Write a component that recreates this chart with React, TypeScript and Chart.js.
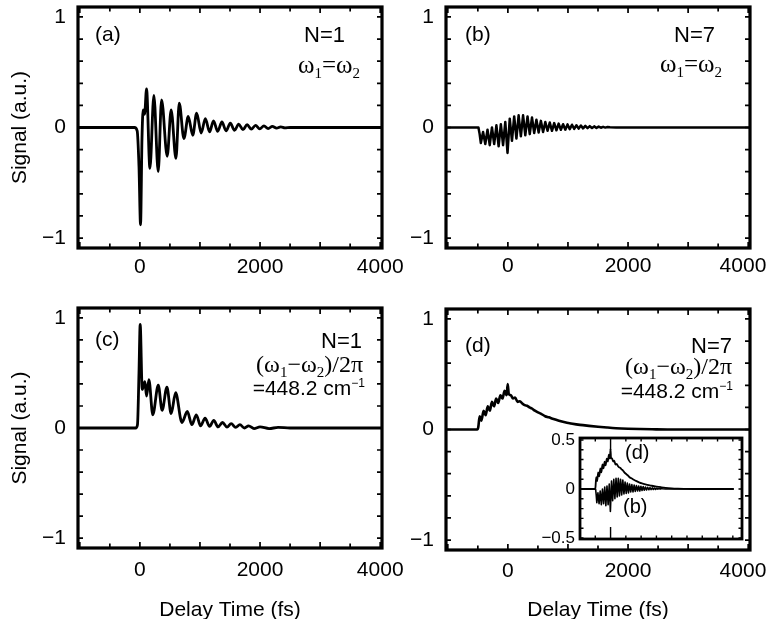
import React, { useEffect, useRef } from "react";
import { Chart, registerables } from "chart.js";

Chart.register(...registerables);

// ---------------- data ----------------
// (a) N=1, w1=w2
const aTime = [-1030, -90, -45, -15, 11, 35, 55, 78, 111, 167, 233, 305, 361, 455, 520, 600, 655, 733, 805, 880, 945, 1020, 1090, 1160, 1225, 1295, 1365, 1435, 1505, 1575, 1645, 1715, 1785, 1855, 1925, 1995, 2065, 2135, 2205, 2275, 2345, 2415, 2500, 4030];
const aSignal = [0, 0, -0.03, -0.35, -0.88, -0.1, 0.16, 0.12, 0.35, -0.37, 0.29, -0.40, 0.25, -0.26, 0.16, -0.28, 0.22, -0.10, 0.10, -0.07, 0.13, -0.05, 0.08, -0.04, 0.06, -0.035, 0.05, -0.03, 0.04, -0.025, 0.03, -0.02, 0.025, -0.015, 0.02, -0.012, 0.015, -0.01, 0.01, -0.006, 0.006, -0.003, 0, 0];

// (b) N=7, w1=w2
const bTime = [-1030, -490, -470, -450, -413, -376, -339, -302, -265, -228, -191, -154, -117, -80, -43, -6, 31, 68, 105, 142, 179, 216, 253, 290, 327, 364, 401, 438, 475, 512, 549, 586, 623, 660, 697, 734, 771, 808, 845, 882, 919, 956, 993, 1030, 1067, 1104, 1141, 1178, 1215, 1252, 1289, 1326, 1363, 1400, 1437, 1474, 1511, 1548, 1585, 1622, 1659, 1700, 1800, 4030];
const bSignal = [0, 0, -0.06, -0.14, -0.04, -0.15, -0.02, -0.16, 0.0, -0.15, 0.02, -0.17, 0.03, -0.16, 0.05, -0.23, 0.08, -0.12, 0.10, -0.10, 0.11, -0.08, 0.11, -0.07, 0.10, -0.06, 0.09, -0.05, 0.07, -0.045, 0.06, -0.04, 0.05, -0.03, 0.045, -0.03, 0.04, -0.025, 0.035, -0.02, 0.03, -0.02, 0.028, -0.015, 0.025, -0.012, 0.02, -0.01, 0.018, -0.008, 0.015, -0.006, 0.012, -0.005, 0.01, -0.004, 0.008, -0.002, 0.006, -0.001, 0.004, 0.002, 0, 0];

// (c) N=1, (w1-w2)/2pi = 448.2 cm-1
const cTime = [-1030, -70, -40, -15, 5, 39, 83, 111, 150, 215, 306, 370, 450, 520, 595, 700, 790, 865, 940, 1010, 1085, 1160, 1230, 1300, 1375, 1450, 1520, 1595, 1665, 1740, 1810, 1900, 2000, 2150, 2300, 2500, 4030];
const cSignal = [0, 0, 0.03, 0.5, 0.94, 0.35, 0.42, 0.29, 0.44, 0.12, 0.39, 0.16, 0.37, 0.13, 0.32, 0.05, 0.15, 0.03, 0.12, 0.02, 0.09, 0.015, 0.07, 0.01, 0.05, 0.008, 0.04, 0.005, 0.03, 0.0, 0.02, -0.005, 0.01, -0.005, 0.005, 0, 0];

// (d) N=7, (w1-w2)/2pi = 448.2 cm-1
const dTime = [-1030, -510, -493, -470, -440, -405, -370, -335, -300, -265, -230, -195, -160, -125, -90, -55, -20, -3, 15, 50, 85, 120, 160, 200, 240, 280, 320, 360, 400, 450, 500, 560, 620, 680, 760, 850, 950, 1050, 1200, 1350, 1500, 1650, 1800, 2000, 2200, 2400, 2700, 4030];
const dSignal = [0, 0, 0.02, 0.12, 0.08, 0.17, 0.13, 0.21, 0.17, 0.25, 0.21, 0.28, 0.24, 0.31, 0.28, 0.35, 0.31, 0.41, 0.32, 0.31, 0.28, 0.29, 0.25, 0.255, 0.235, 0.22, 0.215, 0.20, 0.19, 0.17, 0.155, 0.14, 0.12, 0.11, 0.095, 0.08, 0.065, 0.055, 0.042, 0.033, 0.025, 0.018, 0.012, 0.007, 0.004, 0.002, 0, 0];

// axes / ticks
const xRange = [-1030, 4030];
const yRange = [-1.09, 1.09];
const insetXRange = [-1000, 4300];
const insetYRange = [-0.51, 0.52];
const xTickValues = [-1000, -500, 0, 500, 1000, 1500, 2000, 2500, 3000, 3500, 4000];
const xLabelValues = [0, 2000, 4000];
const yTickValues = [-1, -0.8, -0.6, -0.4, -0.2, 0, 0.2, 0.4, 0.6, 0.8, 1];
const yLabelValues = [-1, 0, 1];
const insetYTickValues = [-0.5, -0.4, -0.3, -0.2, -0.1, 0, 0.1, 0.2, 0.3, 0.4, 0.5];
const insetYLabelValues = [-0.5, 0, 0.5];

const yTitleText = "Signal (a.u.)";
const xTitleText = "Delay Time (fs)";
const panelTags = ["(a)", "(b)", "(c)", "(d)"];
const nLabels = ["N=1", "N=7", "N=1", "N=7"];
const insetTags = ["(d)", "(b)"];

// ---------------- drawing helpers ----------------
const SANS = '"Liberation Sans", Arial, Helvetica, sans-serif';
const SERIF = '"Liberation Serif", "Times New Roman", Times, serif';
const O = 100; // canvas offset beyond page edges
const CW = 1000;
const CH = 840;

const fmt = (v: number) => (v < 0 ? "\u2212" + Math.abs(v) : String(v));

type Part = { t: string; f: string; dy?: number };
type TextItem = { parts: Part[]; x: number; y: number; align: "left" | "right" };

const sans = (s: number) => `${s}px ${SANS}`;
const serif = (s: number) => `${s}px ${SERIF}`;

const omegaEq = (): Part[] => [
  { t: "\u03c9", f: serif(25) },
  { t: "1", f: serif(15), dy: 5 },
  { t: "=", f: serif(25) },
  { t: "\u03c9", f: serif(25) },
  { t: "2", f: serif(15), dy: 5 },
];
const omegaDiff = (): Part[] => [
  { t: "(\u03c9", f: serif(24) },
  { t: "1", f: serif(15), dy: 5 },
  { t: "\u2212\u03c9", f: serif(24) },
  { t: "2", f: serif(15), dy: 5 },
  { t: ")/2\u03c0", f: serif(24) },
];
const waveNumber = (): Part[] => [
  { t: "=448.2 cm", f: sans(21) },
  { t: "\u22121", f: sans(12), dy: -8 },
];
const plain = (t: string, s: number): Part[] => [{ t, f: sans(s) }];

function drawText(ctx: CanvasRenderingContext2D, item: TextItem) {
  let total = 0;
  for (const p of item.parts) {
    ctx.font = p.f;
    total += ctx.measureText(p.t).width;
  }
  let x = (item.align === "right" ? item.x - total : item.x) + O;
  for (const p of item.parts) {
    ctx.font = p.f;
    ctx.fillText(p.t, x, item.y + O + (p.dy || 0));
    x += ctx.measureText(p.t).width;
  }
}

type Series = { t: number[]; v: number[]; lw: number; smooth: boolean };
type Spec = {
  L: number; T: number; R: number; B: number;
  series: Series[];
  xr: number[]; yr: number[];
  xTicks: number[]; xLabels: number[]; yTicks: number[]; yLabels: number[];
  xDisplay: boolean;
  yW: number; xH: number; xPad: number; yPad: number;
  yTitle: boolean; yTitlePad: number; xTitle: boolean; xTitlePad: number;
  tickFont: number;
  frame: number; tickW: number;
  xLen: (v: number) => number; yLen: (v: number) => number;
  lastLabelShift: boolean;
  bg: boolean;
  texts: TextItem[];
};

function makeConfig(s: Spec): any {
  const datasets = s.series.map((ser) => ({
    data: ser.t.map((t, i) => ({ x: t, y: ser.v[i] })),
    borderColor: "#000",
    borderWidth: ser.lw,
    pointRadius: 0,
    fill: false,
    tension: 0,
    cubicInterpolationMode: ser.smooth ? "monotone" : "default",
    borderJoinStyle: "round",
  }));
  const decor = {
    id: "decor",
    beforeDatasetsDraw(chart: any) {
      if (!s.bg) return;
      const { left, top, right, bottom } = chart.chartArea;
      const ctx = chart.ctx;
      ctx.save();
      ctx.fillStyle = "#fff";
      ctx.fillRect(left, top, right - left, bottom - top);
      ctx.restore();
    },
    afterDatasetsDraw(chart: any) {
      const ctx: CanvasRenderingContext2D = chart.ctx;
      const { left, top, right, bottom } = chart.chartArea;
      const xs = chart.scales.x;
      const ys = chart.scales.y;
      ctx.save();
      ctx.strokeStyle = "#000";
      ctx.lineWidth = s.tickW;
      ctx.beginPath();
      for (const v of s.xTicks) {
        const px = xs.getPixelForValue(v);
        const len = s.xLen(v);
        ctx.moveTo(px, bottom);
        ctx.lineTo(px, bottom - len);
        ctx.moveTo(px, top);
        ctx.lineTo(px, top + len);
      }
      for (const v of s.yTicks) {
        const py = ys.getPixelForValue(v);
        const len = s.yLen(v);
        ctx.moveTo(left, py);
        ctx.lineTo(left + len, py);
        ctx.moveTo(right, py);
        ctx.lineTo(right - len, py);
      }
      ctx.stroke();
      ctx.lineWidth = s.frame;
      ctx.strokeRect(left, top, right - left, bottom - top);
      ctx.fillStyle = "#000";
      ctx.textBaseline = "alphabetic";
      ctx.textAlign = "left";
      for (const t of s.texts) drawText(ctx, t);
      ctx.restore();
    },
  };
  const padding = {
    left: s.L + O - s.yW,
    top: s.T + O,
    right: CW - (s.R + O),
    bottom: CH - (s.B + O) - (s.xDisplay ? s.xH : 0),
  };
  const lastX = s.xLabels.length ? s.xLabels[s.xLabels.length - 1] : NaN;
  return {
    type: "line",
    data: { datasets },
    options: {
      responsive: false,
      maintainAspectRatio: false,
      animation: false,
      events: [],
      layout: { padding },
      plugins: { legend: { display: false }, tooltip: { enabled: false }, title: { display: false } },
      scales: {
        x: {
          type: "linear",
          display: s.xDisplay,
          min: s.xr[0],
          max: s.xr[1],
          afterBuildTicks: (sc: any) => {
            sc.ticks = s.xTicks.map((v) => ({ value: v }));
          },
          afterFit: (sc: any) => {
            sc.height = s.xH;
          },
          grid: { display: false, drawTicks: false },
          border: { display: false },
          ticks: {
            autoSkip: false,
            maxRotation: 0,
            minRotation: 0,
            padding: s.xPad,
            color: "#000",
            font: { family: SANS, size: s.tickFont },
            callback: (v: number) =>
              s.xLabels.includes(v) ? fmt(v) + (s.lastLabelShift && v === lastX ? "\u2002" : "") : "",
          },
          title: s.xTitle
            ? { display: true, text: xTitleText, color: "#000", font: { family: SANS, size: 21 }, padding: { top: 0, bottom: s.xTitlePad } }
            : { display: false },
        },
        y: {
          type: "linear",
          min: s.yr[0],
          max: s.yr[1],
          afterBuildTicks: (sc: any) => {
            sc.ticks = s.yTicks.map((v) => ({ value: v }));
          },
          afterFit: (sc: any) => {
            sc.width = s.yW;
          },
          grid: { display: false, drawTicks: false },
          border: { display: false },
          ticks: {
            autoSkip: false,
            padding: s.yPad,
            color: "#000",
            font: { family: SANS, size: s.tickFont },
            callback: (v: number) => (s.yLabels.includes(v) ? fmt(v) : ""),
          },
          title: s.yTitle
            ? { display: true, text: yTitleText, color: "#000", font: { family: SANS, size: 21 }, padding: { top: s.yTitlePad, bottom: 0 } }
            : { display: false },
        },
      },
    },
    plugins: [decor],
  };
}

const mainLenX = (v: number) => (v % 1000 === 0 ? 6 : 4.5);
const mainLenY = () => 5;

function buildSpecs(): Spec[] {
  const base = {
    xr: xRange, yr: yRange,
    xTicks: xTickValues, xLabels: xLabelValues, yTicks: yTickValues, yLabels: yLabelValues,
    xDisplay: true, tickFont: 21, frame: 3.2, tickW: 1.7,
    xLen: mainLenX, yLen: mainLenY, bg: false,
    yTitlePad: 8, xTitlePad: 5.4, lastLabelShift: false,
  };
  const a: Spec = {
    ...base, L: 78, T: 7, R: 382, B: 248,
    series: [{ t: aTime, v: aSignal, lw: 2.8, smooth: true }],
    yW: 78, xH: 40, xPad: 7, yPad: 12, yTitle: true, xTitle: false,
    texts: [
      { parts: plain(panelTags[0], 21), x: 95, y: 41, align: "left" },
      { parts: plain(nLabels[0], 22), x: 345, y: 41.5, align: "right" },
      { parts: omegaEq(), x: 360, y: 73, align: "right" },
    ],
  };
  const b: Spec = {
    ...base, L: 446, T: 7, R: 750, B: 248,
    series: [{ t: bTime, v: bSignal, lw: 2.5, smooth: false }],
    yW: 40, xH: 40, xPad: 6, yPad: 12, yTitle: false, xTitle: false, lastLabelShift: true,
    texts: [
      { parts: plain(panelTags[1], 21), x: 465, y: 41, align: "left" },
      { parts: plain(nLabels[1], 22), x: 715, y: 41.5, align: "right" },
      { parts: omegaEq(), x: 722, y: 72, align: "right" },
    ],
  };
  const c: Spec = {
    ...base, L: 78, T: 308, R: 382, B: 548,
    series: [{ t: cTime, v: cSignal, lw: 2.8, smooth: true }],
    yW: 78, xH: 80, xPad: 10, yPad: 12, yTitle: true, xTitle: true, xTitlePad: 5.4,
    texts: [
      { parts: plain(panelTags[2], 21), x: 95, y: 346, align: "left" },
      { parts: plain(nLabels[2], 22), x: 362, y: 348, align: "right" },
      { parts: omegaDiff(), x: 363, y: 372, align: "right" },
      { parts: waveNumber(), x: 365, y: 395, align: "right" },
    ],
  };
  const d: Spec = {
    ...base, L: 446, T: 309, R: 750, B: 550,
    series: [{ t: dTime, v: dSignal, lw: 2.6, smooth: true }],
    yW: 40, xH: 80, xPad: 9, yPad: 12, yTitle: false, xTitle: true, xTitlePad: 7.4, lastLabelShift: true,
    texts: [
      { parts: plain(panelTags[3], 21), x: 465, y: 352, align: "left" },
      { parts: plain(nLabels[3], 22), x: 732, y: 353, align: "right" },
      { parts: omegaDiff(), x: 732, y: 374, align: "right" },
      { parts: waveNumber(), x: 733, y: 398, align: "right" },
    ],
  };
  const inset: Spec = {
    L: 580, T: 438, R: 742, B: 539,
    series: [
      { t: dTime, v: dSignal, lw: 1.8, smooth: true },
      { t: bTime, v: bSignal, lw: 1.6, smooth: false },
    ],
    xr: insetXRange, yr: insetYRange,
    xTicks: xTickValues, xLabels: [], yTicks: insetYTickValues, yLabels: insetYLabelValues,
    xDisplay: false, yW: 40, xH: 0, xPad: 0, yPad: 5,
    yTitle: false, yTitlePad: 0, xTitle: false, xTitlePad: 0,
    tickFont: 17, frame: 2.8, tickW: 1.4,
    xLen: (v: number) => (v === 0 ? 12 : 3.5), yLen: () => 3.5,
    lastLabelShift: false,
    bg: true,
    texts: [
      { parts: plain(insetTags[0], 20), x: 625, y: 459, align: "left" },
      { parts: plain(insetTags[1], 20), x: 623, y: 513, align: "left" },
    ],
  };
  return [a, b, c, d, inset];
}

export default function App() {
  const canvases = useRef<(HTMLCanvasElement | null)[]>([]);
  useEffect(() => {
    Chart.defaults.font.family = SANS;
    Chart.defaults.color = "#000";
    const specs = buildSpecs();
    const charts = specs.map((s, i) => new Chart(canvases.current[i] as HTMLCanvasElement, makeConfig(s)));
    return () => charts.forEach((c) => c.destroy());
  }, []);
  return (
    <div
      style={{
        position: "absolute",
        left: 0,
        top: 0,
        width: 769,
        height: 619,
        overflow: "hidden",
        background: "#fff",
      }}
    >
      {[0, 1, 2, 3, 4].map((i) => (
        <canvas
          key={i}
          ref={(el) => {
            canvases.current[i] = el;
          }}
          width={CW}
          height={CH}
          style={{ position: "absolute", left: -O, top: -O, width: CW, height: CH }}
        />
      ))}
    </div>
  );
}
